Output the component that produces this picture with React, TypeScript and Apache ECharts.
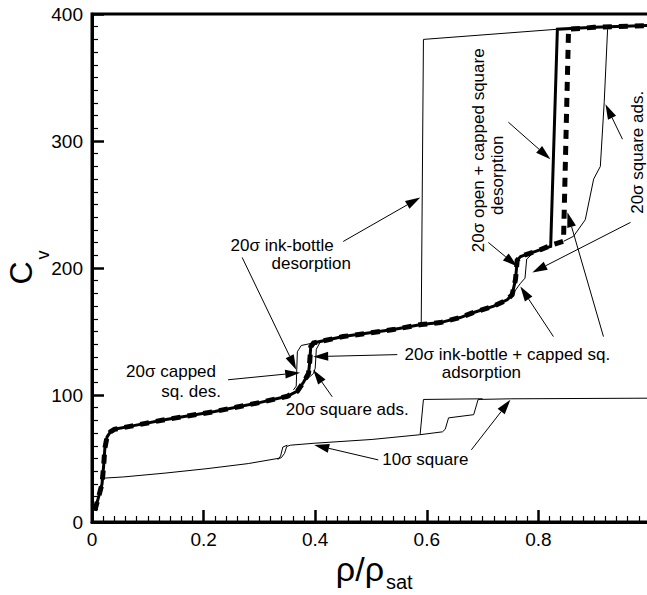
import { useEffect, useRef } from "react";
import * as echarts from "echarts";

type P = [number, number];

// x tick values / y tick values
const xTicks = [0, 0.2, 0.4, 0.6, 0.8, 1];
const yTicks = [0, 100, 200, 300, 400];

// shared 20σ branches
const lowerBranch: P[] = [
  [0.005, 9], [0.012, 20], [0.018, 30], [0.021, 45], [0.023, 58], [0.027, 67],
  [0.033, 71], [0.04, 73], [0.07, 75.5], [0.13, 80.5], [0.22, 87], [0.3, 94],
  [0.35, 99], [0.368, 103], [0.379, 110], [0.388, 117], [0.39, 125],
];
const upperBranch: P[] = [
  [0.392, 138], [0.397, 141], [0.45, 146], [0.54, 151.5], [0.59, 155.5],
  [0.624, 157], [0.66, 161], [0.684, 165], [0.72, 170], [0.744, 175],
  [0.753, 179], [0.759, 191], [0.762, 206], [0.768, 209], [0.804, 214.5],
];
const adsTop: P[] = [[0.827, 218.6], [0.845, 221], [0.854, 388], [0.9, 389.5], [1, 391]];
const desTop: P[] = [[0.822, 217], [0.834, 388], [0.9, 389.5], [1, 391]];

// 20σ ink-bottle desorption (thin)
const inkDesLoop: P[] = [[0.361, 104], [0.366, 107], [0.368, 134], [0.375, 139], [0.397, 141]];
const inkDesTop: P[] = [[0.59, 155.5], [0.594, 380], [0.834, 388]];

// 20σ square adsorption (thin)
const sqAdsA: P[] = [[0.379, 110], [0.397, 117], [0.4, 121], [0.402, 136], [0.41, 142.5]];
const sqAdsB: P[] = [[0.753, 179], [0.768, 188], [0.776, 192], [0.779, 207], [0.79, 211.5]];
const sqAdsC: P[] = [
  [0.845, 221], [0.863, 225], [0.884, 238], [0.899, 270], [0.911, 280],
  [0.918, 331], [0.924, 388],
];

// 10σ square
const tenAds: P[] = [
  [0.016, 33], [0.02, 34.5], [0.057, 35.5], [0.131, 38.5], [0.206, 42],
  [0.28, 46], [0.339, 50.5], [0.345, 54], [0.349, 59.5], [0.356, 60.5],
  [0.398, 62], [0.502, 65], [0.587, 68.7], [0.628, 71], [0.633, 73],
  [0.639, 82], [0.684, 84.5], [0.692, 96.5], [0.75, 97], [1, 97.5],
];
const tenDesA: P[] = [[0.333, 49], [0.338, 52], [0.342, 59], [0.35, 60.5]];
const tenDesB: P[] = [[0.588, 68.8], [0.594, 96.5], [0.7, 97]];

// annotations (data coordinates)
const labelTexts: { text: string; at: P; rot?: boolean }[] = [
  { text: "20σ ink-bottle", at: [0.3408, 217.5] },
  { text: "desorption", at: [0.3928, 203.8] },
  { text: "20σ capped", at: [0.1417, 118.3] },
  { text: "sq. des.", at: [0.1776, 102.6] },
  { text: "20σ square ads.", at: [0.4574, 88.4] },
  { text: "20σ ink-bottle + capped sq.", at: [0.7444, 132.0] },
  { text: "adsorption", at: [0.6978, 117.4] },
  { text: "20σ open + capped square", at: [0.6924, 292.7], rot: true },
  { text: "desorption", at: [0.7265, 273.0], rot: true },
  { text: "20σ square ads.", at: [0.9776, 291.1], rot: true },
  { text: "10σ square", at: [0.5973, 48.9] },
];
const arrowFrom: P[] = [
  [0.4502, 220.9], [0.2691, 208.3], [0.2439, 112.0], [0.4305, 98.6],
  [0.5471, 131.8], [0.8269, 146.0], [0.9166, 146.0], [0.7462, 314.8],
  [0.7103, 220.1], [0.9507, 301.4], [0.965, 235.9], [0.513, 48.9], [0.6798, 56.8],
];
const arrowTo: P[] = [
  [0.5883, 255.6], [0.3659, 119.9], [0.3731, 117.6], [0.3964, 119.9],
  [0.3964, 130.2], [0.7677, 185.4], [0.852, 243.8], [0.8215, 285.6],
  [0.7623, 201.2], [0.9202, 329.0], [0.7892, 196.4], [0.3982, 60.7], [0.7498, 96.3],
];

const FONT = "'Liberation Sans', Arial, Helvetica, sans-serif";

function line(data: P[], width: number, dash?: number[]) {
  return {
    type: "line",
    data,
    showSymbol: false,
    symbol: "none",
    silent: true,
    lineStyle: { color: "#000", width, type: dash ? dash : "solid", cap: "butt", join: "miter" },
  };
}

export default function App() {
  const ref = useRef<HTMLDivElement>(null);
  useEffect(() => {
    if (!ref.current) return;
    const chart = echarts.init(ref.current, undefined, { renderer: "svg" });
    const mainAds: P[] = [...lowerBranch, ...upperBranch, ...adsTop];
    const mainDes: P[] = [...lowerBranch, ...upperBranch, ...desTop];
    chart.setOption({
      animation: false,
      grid: {
        left: 92, top: 14, right: -3, bottom: 73,
        containLabel: false, outerBoundsMode: "none",
        show: true, borderColor: "#000", borderWidth: 3,
      },
      xAxis: {
        type: "value",
        min: xTicks[0],
        max: xTicks[xTicks.length - 1],
        interval: xTicks[1] - xTicks[0],
        axisLine: { show: true, lineStyle: { color: "#000", width: 3 } },
        axisTick: { show: true, inside: true, length: 12, lineStyle: { color: "#000", width: 2.5 } },
        minorTick: { show: true, splitNumber: 10, length: 6, lineStyle: { color: "#000", width: 1.2 } },
        splitLine: { show: false },
        axisLabel: { color: "#000", fontSize: 19, fontFamily: FONT, margin: 8, showMaxLabel: false },
      },
      yAxis: {
        type: "value",
        min: yTicks[0],
        max: yTicks[yTicks.length - 1],
        interval: yTicks[1] - yTicks[0],
        axisLine: { show: true, lineStyle: { color: "#000", width: 3 } },
        axisTick: { show: true, inside: true, length: 12, lineStyle: { color: "#000", width: 2.5 } },
        minorTick: { show: true, splitNumber: 10, length: 6, lineStyle: { color: "#000", width: 1.2 } },
        splitLine: { show: false },
        axisLabel: { color: "#000", fontSize: 19, fontFamily: FONT, margin: 9 },
      },
      series: [
        line(tenAds, 1),
        line(tenDesA, 1),
        line(tenDesB, 1),
        line(inkDesLoop, 1),
        line(inkDesTop, 1),
        line(sqAdsA, 1),
        line(sqAdsB, 1),
        line(sqAdsC, 1),
        line(mainDes, 3),
        line(mainAds, 5, [9, 7]),
      ],
    });

    const toPx = (p: P) => chart.convertToPixel({ seriesIndex: 0 }, p) as number[];
    const graphics: any[] = [];
    labelTexts.forEach((t) => {
      const [x, y] = toPx(t.at);
      graphics.push({
        type: "text",
        x,
        y,
        rotation: t.rot ? Math.PI / 2 : 0,
        silent: true,
        style: { text: t.text, fill: "#000", fontSize: 17, fontFamily: FONT, align: "center", verticalAlign: "middle" },
      });
    });
    arrowFrom.forEach((f, i) => {
      const [x1, y1] = toPx(f);
      const [x2, y2] = toPx(arrowTo[i]);
      const dx = x2 - x1, dy = y2 - y1;
      const len = Math.sqrt(dx * dx + dy * dy);
      const ux = dx / len, uy = dy / len;
      const hl = 15, hw = 4.5;
      const bx = x2 - ux * hl, by = y2 - uy * hl;
      graphics.push({
        type: "line",
        silent: true,
        shape: { x1, y1, x2: bx, y2: by },
        style: { stroke: "#000", lineWidth: 1 },
      });
      graphics.push({
        type: "polygon",
        silent: true,
        shape: { points: [[x2, y2], [bx - uy * hw, by + ux * hw], [bx + uy * hw, by - ux * hw]] },
        style: { fill: "#000" },
      });
    });
    // axis titles
    graphics.push({
      type: "text", x: 21, y: 273, rotation: Math.PI / 2, silent: true,
      style: { text: "C", fill: "#000", fontSize: 32, fontFamily: FONT, align: "center", verticalAlign: "middle" },
    });
    graphics.push({
      type: "text", x: 43, y: 255, rotation: Math.PI / 2, silent: true,
      style: { text: "v", fill: "#000", fontSize: 18, fontFamily: FONT, align: "center", verticalAlign: "middle" },
    });
    graphics.push({
      type: "text", x: 384, y: 569, silent: true,
      style: { text: "ρ/ρ", fill: "#000", fontSize: 34, fontFamily: FONT, align: "right", verticalAlign: "middle" },
    });
    graphics.push({
      type: "text", x: 386, y: 582, silent: true,
      style: { text: "sat", fill: "#000", fontSize: 20, fontFamily: FONT, align: "left", verticalAlign: "middle" },
    });
    chart.setOption({ graphic: graphics });
    return () => chart.dispose();
  }, []);
  return (
    <div
      ref={ref}
      style={{ position: "fixed", left: 0, top: 0, width: 647, height: 595, background: "#fff" }}
    />
  );
}
